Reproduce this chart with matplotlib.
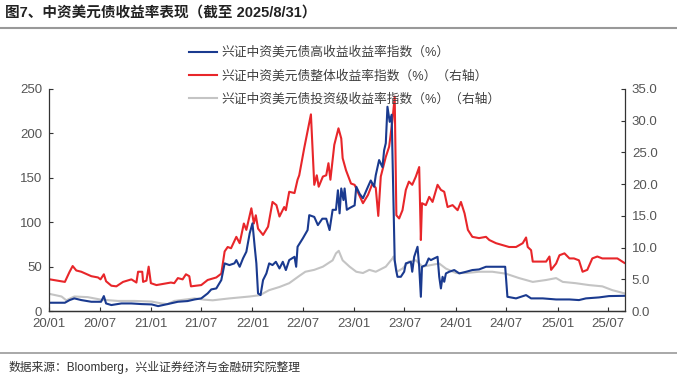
import pandas as pd
import matplotlib.pyplot as plt
import matplotlib.dates as mdates
from matplotlib.lines import Line2D

plt.rcParams['font.family'] = ['Liberation Sans', 'Noto Sans CJK SC', 'DejaVu Sans']

# 兴业中资美元债高收益收益率指数（%），左轴
hy_dates = ['2020-01-04', '2020-02-27', '2020-03-15', '2020-04-01', '2020-04-26', '2020-06-01',
            '2020-07-06', '2020-07-16', '2020-07-24', '2020-08-12', '2020-09-17', '2020-10-23',
            '2020-11-28', '2021-01-04', '2021-01-27', '2021-03-02', '2021-04-08', '2021-05-13',
            '2021-06-07', '2021-07-01', '2021-07-24', '2021-08-06', '2021-08-24', '2021-09-11',
            '2021-09-23', '2021-10-10', '2021-10-28', '2021-11-04', '2021-11-16', '2021-11-28',
            '2021-12-10', '2021-12-22', '2022-01-01', '2022-01-09', '2022-01-15', '2022-01-21',
            '2022-01-30', '2022-02-08', '2022-02-20', '2022-03-02', '2022-03-14', '2022-03-26',
            '2022-04-08', '2022-04-20', '2022-05-01', '2022-05-13', '2022-06-01', '2022-06-07',
            '2022-06-12', '2022-07-01', '2022-07-18', '2022-07-24', '2022-08-11', '2022-08-24',
            '2022-09-09', '2022-09-23', '2022-10-05', '2022-10-16', '2022-10-28', '2022-11-04',
            '2022-11-10', '2022-11-16', '2022-11-24', '2022-11-28', '2022-12-06', '2022-12-16',
            '2023-01-03', '2023-01-09', '2023-01-21', '2023-02-02', '2023-02-20', '2023-03-02',
            '2023-03-14', '2023-03-20', '2023-04-01', '2023-04-13', '2023-04-19', '2023-04-25',
            '2023-05-01', '2023-05-09', '2023-05-16', '2023-05-27', '2023-06-01', '2023-06-06',
            '2023-06-18', '2023-06-30', '2023-07-06', '2023-07-24', '2023-07-29', '2023-08-05',
            '2023-08-17', '2023-08-23', '2023-08-29', '2023-09-02', '2023-09-16', '2023-09-26',
            '2023-10-04', '2023-10-16', '2023-10-28', '2023-11-03', '2023-11-09', '2023-11-15',
            '2023-11-21', '2023-11-27', '2023-12-09', '2023-12-27', '2024-01-14', '2024-02-08',
            '2024-03-01', '2024-03-25', '2024-04-19', '2024-05-12', '2024-06-17', '2024-06-27',
            '2024-07-05', '2024-08-05', '2024-09-10', '2024-09-28', '2024-11-09', '2024-12-27',
            '2025-02-13', '2025-03-19', '2025-04-13', '2025-05-30', '2025-07-05', '2025-08-29']
hy_vals = [9.4, 9.4, 12.4, 14.3, 12.4, 10.5,
           10.5, 16.9, 8.6, 6.8, 8.6, 8.6,
           7.9, 7.5, 5.6, 7.9, 10.5, 11.3,
           13.1, 14.3, 19.9, 24.4, 25.5, 34.9,
           53.7, 51.8, 53.7, 57.4, 49.9, 59.3,
           66.8, 87.5, 98.8, 72.4, 53.7, 19.9,
           18.0, 34.9, 42.4, 53.7, 51.8, 55.5,
           48.0, 55.5, 46.2, 57.4, 61.1, 49.9,
           72.4, 81.9, 91.2, 108, 106, 96.8,
           104, 104, 91.2, 114, 114, 136,
           110, 138, 125, 138, 114, 116,
           119, 140, 132, 127, 140, 147,
           140, 153, 170, 162, 181, 189,
           230, 213, 221, 57.4, 46.2, 38.6,
           38.6, 44.3, 53.7, 55.5, 44.3, 61.1,
           72.4, 49.9, 16.1, 49.9, 51.8, 59.3,
           57.4, 59.3, 61.1, 38.6, 25.5, 38.6,
           33.0, 42.4, 44.3, 46.2, 42.4, 44.3,
           46.2, 46.9, 49.9, 49.9, 49.9, 49.9,
           16.1, 14.3, 18.0, 14.3, 14.3, 13.1,
           13.1, 12.4, 14.3, 15.4, 16.9, 17.2]

# 兴证中资美元债整体收益率指数（%），右轴
all_dates = ['2020-01-04', '2020-02-27', '2020-03-15', '2020-03-26', '2020-04-08', '2020-04-26',
             '2020-06-01', '2020-06-25', '2020-07-04', '2020-07-16', '2020-07-24', '2020-08-12',
             '2020-08-30', '2020-09-23', '2020-10-23', '2020-11-10', '2020-11-16', '2020-12-01',
             '2020-12-04', '2020-12-16', '2020-12-24', '2021-01-01', '2021-01-21', '2021-03-14',
             '2021-03-26', '2021-04-08', '2021-04-25', '2021-05-07', '2021-05-19', '2021-05-25',
             '2021-07-01', '2021-07-24', '2021-08-24', '2021-09-11', '2021-09-23', '2021-10-04',
             '2021-10-16', '2021-11-04', '2021-11-16', '2021-12-01', '2021-12-10', '2021-12-28',
             '2022-01-06', '2022-01-13', '2022-01-21', '2022-02-08', '2022-02-26', '2022-03-14',
             '2022-03-28', '2022-04-08', '2022-04-25', '2022-05-01', '2022-05-13', '2022-06-01',
             '2022-06-12', '2022-06-18', '2022-07-06', '2022-07-30', '2022-08-11', '2022-08-20',
             '2022-08-27', '2022-09-11', '2022-09-23', '2022-10-01', '2022-10-08', '2022-10-22',
             '2022-11-06', '2022-11-16', '2022-11-21', '2022-12-03', '2022-12-21', '2023-01-03',
             '2023-01-14', '2023-02-02', '2023-02-20', '2023-03-08', '2023-03-20', '2023-03-29',
             '2023-04-07', '2023-04-25', '2023-05-07', '2023-05-19', '2023-05-27', '2023-06-02',
             '2023-06-12', '2023-06-24', '2023-07-06', '2023-07-17', '2023-07-29', '2023-08-11',
             '2023-08-23', '2023-08-29', '2023-09-02', '2023-09-16', '2023-09-28', '2023-10-10',
             '2023-10-28', '2023-11-09', '2023-11-21', '2023-12-03', '2023-12-21', '2024-01-08',
             '2024-01-20', '2024-02-02', '2024-02-14', '2024-03-01', '2024-03-25', '2024-04-19',
             '2024-05-01', '2024-05-25', '2024-06-17', '2024-07-11', '2024-08-05', '2024-08-29',
             '2024-09-10', '2024-09-16', '2024-09-28', '2024-10-04', '2024-10-28', '2024-11-21',
             '2024-12-03', '2024-12-09', '2024-12-27', '2025-01-08', '2025-01-26', '2025-02-13',
             '2025-03-01', '2025-03-19', '2025-04-01', '2025-04-18', '2025-05-06', '2025-05-24',
             '2025-06-11', '2025-07-05', '2025-08-04', '2025-08-22', '2025-08-29']
all_vals = [5.0, 4.6, 6.2, 7.1, 6.4, 6.2,
            5.5, 5.3, 5.0, 5.8, 4.7, 4.0,
            3.9, 4.6, 5.0, 4.5, 6.2, 6.2,
            4.6, 4.8, 7.0, 4.4, 4.1, 4.5,
            4.4, 5.2, 5.0, 5.8, 5.5, 3.9,
            4.1, 4.9, 5.3, 5.9, 9.4, 10.1,
            9.9, 11.7, 10.7, 13.8, 12.8, 16.2,
            13.8, 15.1, 13.0, 12.0, 13.3, 17.2,
            16.7, 14.9, 16.4, 15.9, 18.8, 18.6,
            20.7, 21.4, 25.7, 31.0, 19.9, 21.4,
            19.6, 21.2, 21.4, 23.3, 20.7, 26.2,
            28.8, 27.2, 24.1, 22.2, 20.1, 19.9,
            18.8, 17.0, 18.3, 20.1, 19.4, 15.0,
            21.2, 24.3, 25.9, 30.1, 33.8, 15.1,
            14.6, 15.9, 19.1, 20.4, 19.9, 21.2,
            22.7, 11.2, 17.0, 16.7, 18.0, 17.2,
            19.9, 19.1, 18.8, 16.4, 16.7, 15.9,
            17.2, 15.4, 12.8, 11.7, 11.5, 11.7,
            11.2, 10.7, 10.4, 10.1, 10.1, 10.7,
            11.6, 10.1, 9.6, 7.8, 7.8, 7.8,
            8.6, 6.5, 7.5, 8.8, 9.1, 8.3,
            8.3, 8.0, 6.2, 6.5, 8.3, 8.6,
            8.3, 8.3, 8.3, 7.8, 7.6]

# 兴证中资美元债投资级收益率指数（%），右轴
ig_dates = ['2020-01-04', '2020-02-15', '2020-03-03', '2020-04-01', '2020-05-19', '2020-07-06',
            '2020-09-05', '2020-11-04', '2021-01-04', '2021-02-09', '2021-03-02', '2021-03-26',
            '2021-05-01', '2021-06-07', '2021-07-12', '2021-08-11', '2021-10-10', '2021-12-22',
            '2022-01-27', '2022-03-02', '2022-04-08', '2022-05-13', '2022-06-20', '2022-07-10',
            '2022-08-11', '2022-09-11', '2022-10-16', '2022-10-28', '2022-11-07', '2022-11-21',
            '2022-12-16', '2023-01-09', '2023-02-02', '2023-02-25', '2023-03-20', '2023-04-25',
            '2023-05-19', '2023-05-23', '2023-06-04', '2023-06-24', '2023-07-17', '2023-08-11',
            '2023-09-04', '2023-10-10', '2023-11-03', '2023-11-27', '2024-01-02', '2024-02-08',
            '2024-03-25', '2024-05-12', '2024-06-29', '2024-08-16', '2024-10-04', '2024-11-21',
            '2024-12-27', '2025-01-20', '2025-03-07', '2025-04-24', '2025-06-11', '2025-07-17',
            '2025-08-29']
ig_vals = [2.7, 2.3, 1.7, 2.3, 2.2, 1.8,
           1.6, 1.6, 1.5, 1.2, 1.1, 1.6,
           1.8, 2.0, 1.8, 1.7, 2.0, 2.3,
           2.5, 3.3, 3.8, 4.4, 5.6, 6.2,
           6.5, 7.0, 8.0, 9.1, 9.5, 8.0,
           7.0, 6.2, 6.0, 6.5, 6.2, 7.0,
           8.3, 8.6, 6.2, 6.7, 7.8, 8.0,
           7.0, 7.3, 7.5, 6.7, 6.0, 6.0,
           6.2, 6.2, 5.9, 5.2, 4.6, 4.9,
           5.2, 4.6, 4.4, 4.1, 3.9, 3.3,
           2.8]

labels = ['兴证中资美元债高收益收益率指数（%）',
          '兴证中资美元债整体收益率指数（%）（右轴）',
          '兴证中资美元债投资级收益率指数（%）（右轴）']
c_hy, c_all, c_ig = '#1a3a8f', '#e8262a', '#c4c4c4'
txt = '#555555'

fig = plt.figure(figsize=(6.77, 3.78), dpi=100)
ax = fig.add_axes([0.0724, 0.177, 0.8506, 0.5876])
ax2 = ax.twinx()

ax2.plot(pd.to_datetime(ig_dates), ig_vals, color=c_ig, lw=1.5)
ax2.plot(pd.to_datetime(all_dates), all_vals, color=c_all, lw=1.5)
ax.plot(pd.to_datetime(hy_dates), hy_vals, color=c_hy, lw=1.5)
ax.set_zorder(ax2.get_zorder() + 1)
ax.patch.set_visible(False)

ax.set_xlim(pd.Timestamp('2020-01-01'), pd.Timestamp('2025-08-31'))
ax.set_ylim(0, 250)
ax2.set_ylim(0, 35)
ax.set_yticks(range(0, 251, 50))
ax2.set_yticks([0, 5, 10, 15, 20, 25, 30, 35])
ax2.set_yticklabels([f'{v:.1f}' for v in ax2.get_yticks()])
ax.xaxis.set_major_locator(mdates.MonthLocator(bymonth=[1, 7]))
ax.xaxis.set_major_formatter(mdates.DateFormatter('%y/%m'))

for a in (ax, ax2):
    a.spines['top'].set_visible(False)
    for s in ('left', 'right', 'bottom'):
        a.spines[s].set_color('#333333')
        a.spines[s].set_linewidth(0.9)
    a.tick_params(direction='in', length=3, width=0.8, color='#333333',
                  labelsize=9.5, labelcolor=txt, pad=5)
ax2.spines['left'].set_visible(False)
ax.spines['right'].set_visible(False)

handles = [Line2D([], [], color=c, lw=1.5) for c in (c_hy, c_all, c_ig)]
fig.legend(handles, labels, loc='upper left', bbox_to_anchor=(0.272, 0.89),
           frameon=False, fontsize=9.2, labelcolor='#404040', handlelength=2.2,
           handletextpad=0.3, labelspacing=0.85, borderaxespad=0)

fig.text(0.008, 0.966, '图7、中资美元债收益率表现（截至 2025/8/31）', fontsize=10.5,
         fontweight='bold', color='#222222', va='center')
fig.add_artist(Line2D([0, 1], [0.927, 0.927], color='#999999', lw=1.5))
fig.add_artist(Line2D([0, 1], [0.066, 0.066], color='#999999', lw=1.2))
fig.text(0.012, 0.027, '数据来源：Bloomberg，兴业证券经济与金融研究院整理', fontsize=8.5,
         color='#333333', va='center')

fig.savefig('out.png', dpi=100)
